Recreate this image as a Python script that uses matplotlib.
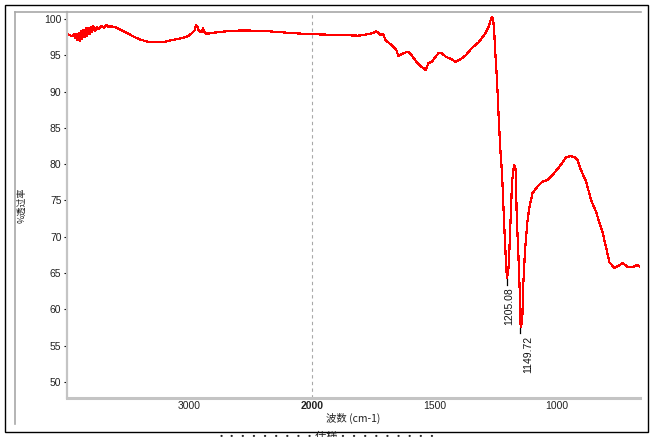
import numpy as np
import matplotlib.pyplot as plt
import matplotlib
from matplotlib.lines import Line2D
from matplotlib.patches import Rectangle

params = {'font.family': ['Liberation Sans', 'Noto Sans CJK SC', 'DejaVu Sans'], 'font.weight': 'normal'}
matplotlib.rcParams.update(params)

# IR spectrum: wavenumber (cm-1) and % transmittance
wavenumber = [4000, 3980, 3960, 3945, 3935, 3925, 3915, 3905, 3895, 3885, 3875, 3865, 3855,
              3845, 3835, 3825, 3815, 3805, 3795, 3785, 3770, 3755, 3740, 3720, 3700, 3680,
              3660, 3640, 3611, 3571, 3514, 3460, 3409, 3350, 3304, 3247, 3190, 3142, 3080,
              3028, 2990, 2960, 2947, 2935, 2923, 2900, 2891, 2880, 2866, 2842, 2800, 2761,
              2700, 2600, 2500, 2437, 2350, 2275, 2200, 2113, 2000, 1893, 1811, 1771, 1750,
              1738, 1720, 1709, 1701, 1676, 1656, 1648, 1627, 1607, 1594, 1574, 1553, 1537,
              1525, 1512, 1496, 1484, 1471, 1455, 1434, 1414, 1393, 1373, 1348, 1320, 1291,
              1279, 1271, 1266, 1262, 1258, 1250, 1246, 1238, 1231, 1225, 1217, 1210, 1205,
              1200, 1197, 1190, 1184, 1176, 1169, 1165, 1159, 1153, 1149, 1145, 1142, 1138,
              1131, 1122, 1115, 1101, 1081, 1060, 1040, 1019, 992, 964, 948, 930, 917, 903,
              882, 862, 841, 828, 814, 800, 787, 766, 746, 732, 712, 691, 675, 662]
transmittance = [97.9, 97.8, 97.6, 97.9, 97.4, 97.9, 97.1, 98.1, 97.0, 98.3, 97.3, 98.5, 97.5,
                 98.7, 97.7, 98.8, 97.9, 98.9, 98.2, 99.0, 98.4, 98.9, 98.6, 99.0, 98.8, 99.2,
                 98.9, 99.0, 98.9, 98.6, 98.1, 97.6, 97.2, 96.9, 96.8, 96.8, 96.9, 97.1, 97.3,
                 97.5, 97.9, 98.4, 99.1, 98.9, 98.3, 98.2, 98.7, 98.2, 98.0, 98.0, 98.1, 98.2,
                 98.3, 98.4, 98.4, 98.3, 98.3, 98.2, 98.1, 98.0, 97.9, 97.8, 97.7, 97.9, 98.1,
                 98.3, 97.8, 97.9, 97.1, 96.4, 95.7, 94.9, 95.3, 95.5, 95.0, 94.1, 93.4, 93.0,
                 93.9, 94.1, 94.8, 95.3, 95.3, 94.8, 94.5, 94.1, 94.5, 95.0, 96.0, 96.8, 98.1,
                 99.0, 99.9, 100.3, 100.0, 98.9, 93.9, 92.0, 86.0, 81.5, 78.8, 72.3, 67.2, 64.3,
                 65.2, 66.4, 72.3, 77.6, 79.9, 79.2, 72.7, 68.2, 62.7, 57.6, 58.0, 59.0, 63.6,
                 68.2, 71.9, 73.7, 76.0, 76.9, 77.6, 77.8, 78.5, 79.6, 80.9, 81.1, 81.0, 80.6, 79.2,
                 77.6, 75.1, 73.4, 72.0, 70.5, 68.5, 66.5, 65.7, 66.1, 66.4, 65.8, 65.8, 66.1, 65.9]

peak_wn = [1205.08, 1149.72]
peak_t = [64.3, 57.6]
peak_text_wn = [1195, 1119]

x_major = [3000, 2000, 1500, 1000]
y_major = list(range(50, 101, 5))


# wavenumber axis: above 2000 cm-1 is drawn at half the scale
def fwd(w):
    w = np.asarray(w, dtype=float)
    return np.where(w >= 2000, 2000 + (w - 2000) * 0.5, w)


def inv(u):
    u = np.asarray(u, dtype=float)
    return np.where(u >= 2000, 2000 + (u - 2000) * 2.0, u)


W, H = 652, 437
fig = plt.figure(figsize=(W / 100, H / 100), dpi=100)
ax = fig.add_axes([67 / W, 1 - 397.5 / H, (640 - 67) / W, (397.5 - 12) / H])

ax.set_xscale('function', functions=(fwd, inv))
ax.plot(wavenumber, transmittance, color='#ff0000', lw=0.85, antialiased=False)
ax.set_xlim(4000, 662)
ax.set_ylim(47.86, 100.96)

# 2000 cm-1 break
ax.axvline(2000, color='#a8a8a8', lw=0.8, ls=(0, (3, 3)))

# peak markers and labels
for w, t, tw in zip(peak_wn, peak_t, peak_text_wn):
    ax.plot([w, w], [t - 0.1, t - 0.9], color='black', lw=0.9)
    ax.text(tw, t - 1.2, '%.2f' % w, rotation=90, ha='center', va='top',
            fontsize=7.5, color='#111111')

for s in ['top', 'right']:
    ax.spines[s].set_visible(False)
ax.spines['left'].set_color('#c4c4c4')
ax.spines['left'].set_linewidth(1.6)
ax.spines['bottom'].set_color('#c4c4c4')
ax.spines['bottom'].set_linewidth(2.2)

ax.set_xticks(x_major)
ax.set_xticklabels([str(v) for v in x_major])
ax.set_xticks(list(range(3800, 2000, -200)) + list(range(1900, 700, -100)), minor=True)
ax.set_yticks(y_major)
ax.set_yticks(range(48, 101), minor=True)
for lab in ax.get_xticklabels():
    if lab.get_text() == '2000':
        lab.set_fontweight('bold')

ax.tick_params(axis='x', which='both', direction='inout', length=1.6, width=1.2,
               color='black', labelsize=7.5, labelcolor='#222222', pad=2)
ax.tick_params(axis='y', which='major', direction='out', length=2.5, width=0.8,
               color='black', labelsize=7.5, labelcolor='#222222', pad=1.5)
ax.tick_params(axis='y', which='minor', direction='inout', length=1.2, width=1.2, color='black')

ax.set_xlabel('波数 (cm-1)', fontsize=7.5, labelpad=1, color='#222222',
              family=['Noto Sans CJK SC', 'DejaVu Sans'])
fig.text(22 / W, 1 - 205 / H, '%透过率', rotation=90, ha='center', va='center',
         fontsize=6.5, color='#222222', family=['Noto Sans CJK SC', 'DejaVu Sans'])

# frames around the chart
fig.add_artist(Rectangle((5 / W, 1 - 432 / H), (648 - 5) / W, (432 - 5) / H,
                         transform=fig.transFigure, fill=False, ec='black', lw=1.0))
fig.add_artist(Line2D([15 / W, 15 / W], [1 - 12 / H, 1 - 424 / H],
                      transform=fig.transFigure, color='#a8a8a8', lw=1.2))
fig.add_artist(Line2D([15 / W, 641 / W], [1 - 12 / H, 1 - 12 / H],
                      transform=fig.transFigure, color='#a8a8a8', lw=1.2))

# caption cut off at the bottom edge, as in the original screenshot
fig.text(327 / W, 1 - 432 / H, '·········仕様·········', ha='center', va='top',
         fontsize=8, color='#222222', family=['Noto Sans CJK SC', 'DejaVu Sans'])

plt.savefig('out.png', dpi=100)
